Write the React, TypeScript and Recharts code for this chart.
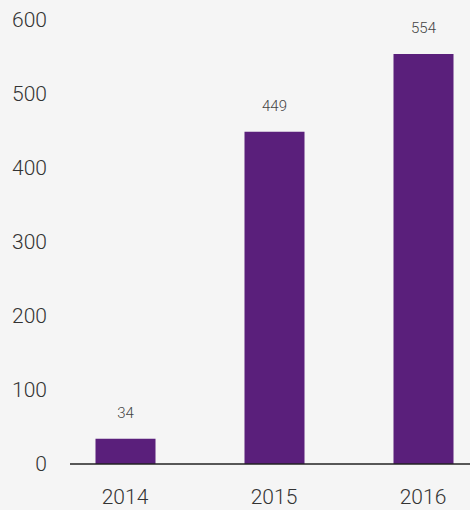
import React from 'react';
import { BarChart, Bar, XAxis, YAxis, LabelList } from 'recharts';

const years = ['2014', '2015', '2016'];
const counts = [34, 449, 554];
const yTicks = [0, 100, 200, 300, 400, 500, 600];

const data = years.map((year, i) => ({ year, count: counts[i] }));

const font = 'Roboto, "Noto Sans", sans-serif';

export default function App() {
  return (
    <div
      style={{
        position: 'absolute',
        left: 0,
        top: 0,
        width: 470,
        height: 510,
        background: '#f5f5f5',
        overflow: 'hidden',
        fontFamily: font,
      }}
    >
      <BarChart
        width={470}
        height={510}
        data={data}
        margin={{ top: 20, right: 0, bottom: 0, left: 0 }}
        barSize={60}
      >
        <XAxis
          dataKey="year"
          height={46}
          padding={{ left: -19.5, right: -27.5 }}
          tickLine={false}
          tickSize={0}
          tickMargin={25}
          axisLine={{ stroke: '#222', strokeWidth: 1.5 }}
          tick={{ fill: '#333', fontSize: 21, fontWeight: 300, fontFamily: font }}
        />
        <YAxis
          width={70}
          domain={[0, 600]}
          ticks={yTicks}
          axisLine={false}
          tickLine={false}
          tickSize={0}
          tickMargin={23}
          tick={{ fill: '#333', fontSize: 21, fontWeight: 300, fontFamily: font }}
        />
        <Bar dataKey="count" fill="#5a1f7b" isAnimationActive={false}>
          <LabelList
            dataKey="count"
            position="top"
            offset={21}
            fill="#444"
            fontSize={15}
            fontWeight={300}
            fontFamily={font}
          />
        </Bar>
      </BarChart>
    </div>
  );
}
